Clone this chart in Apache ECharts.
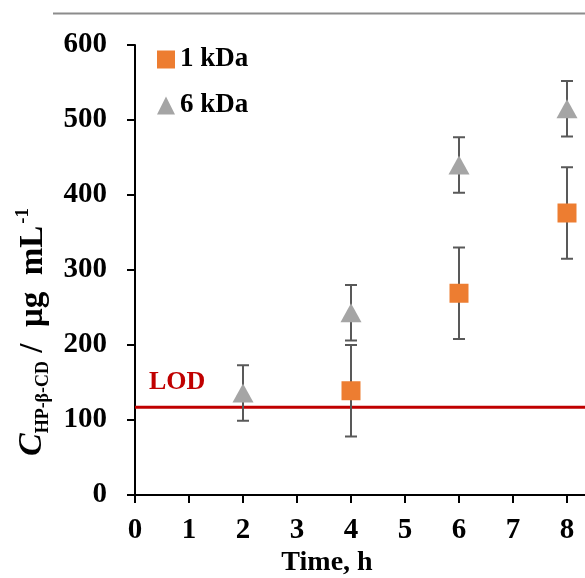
<!DOCTYPE html>
<html><head><meta charset="utf-8">
<script src="https://cdn.jsdelivr.net/npm/echarts@6/dist/echarts.min.js"></script>
<style>html,body{margin:0;padding:0;background:#fff}#c{width:585px;height:578px}</style>
</head><body><div id="c"></div>
<script>
// Data
const xTicks = [0,1,2,3,4,5,6,7,8];
const yTicks = [0,100,200,300,400,500,600];
const time1kDa = [4,6,8];
const mean1kDa = [139,269,376];
const sd1kDa = [61,61,61];
const time6kDa = [2,4,6,8];
const mean6kDa = [136,243,440,515];
const sd6kDa = [37,37,37,37];
const lod = 117;

const serif = '"Liberation Serif","Times New Roman",serif';
const pts1 = time1kDa.map((t,i)=>[t,mean1kDa[i]]);
const pts6 = time6kDa.map((t,i)=>[t,mean6kDa[i]]);
const err1 = time1kDa.map((t,i)=>[t,mean1kDa[i]-sd1kDa[i],mean1kDa[i]+sd1kDa[i]]);
const err6 = time6kDa.map((t,i)=>[t,mean6kDa[i]-sd6kDa[i],mean6kDa[i]+sd6kDa[i]]);

function errItem(params, api){
  const x = api.value(0);
  const lo = api.coord([x, api.value(1)]);
  const hi = api.coord([x, api.value(2)]);
  const w = 6;
  const st = {stroke:'#595959', lineWidth:2};
  return {type:'group', children:[
    {type:'line', shape:{x1:lo[0],y1:lo[1],x2:hi[0],y2:hi[1]}, style:st},
    {type:'line', shape:{x1:lo[0]-w,y1:lo[1],x2:lo[0]+w,y2:lo[1]}, style:st},
    {type:'line', shape:{x1:hi[0]-w,y1:hi[1],x2:hi[0]+w,y2:hi[1]}, style:st}
  ]};
}

const chart = echarts.init(document.getElementById('c'));
chart.setOption({
  animation:false,
  backgroundColor:'#fff',
  grid:{left:135, top:45, right:0, height:450, containLabel:false},
  legend:{
    orient:'vertical', left:157, top:46, itemGap:19, itemWidth:18, itemHeight:18, padding:0,
    data:[{name:'1 kDa', icon:'rect'},{name:'6 kDa', icon:'triangle'}],
    textStyle:{fontFamily:serif, fontWeight:'bold', fontSize:27, color:'#000'}
  },
  xAxis:{
    type:'value', min:0, max:450/54, interval:1,
    axisLine:{lineStyle:{color:'#000', width:2}},
    axisTick:{show:true, length:8, lineStyle:{color:'#000', width:2}},
    splitLine:{show:false},
    axisLabel:{margin:21, fontFamily:serif, fontWeight:'bold', fontSize:29, color:'#000',
      showMaxLabel:false,
      formatter:v=> xTicks.indexOf(v)>=0 ? String(v) : ''}
  },
  yAxis:{
    type:'value', min:0, max:600, interval:100,
    axisLine:{show:true, lineStyle:{color:'#000', width:2}},
    axisTick:{show:true, length:8, lineStyle:{color:'#000', width:2}},
    splitLine:{show:false},
    axisLabel:{margin:28, fontFamily:serif, fontWeight:'bold', fontSize:29, color:'#000',
      formatter:v=> yTicks.indexOf(v)>=0 ? String(v) : ''},
    name:'{c|C}{sub|HP-β-CD}{m| /  μg  mL}{sup|-1}',
    nameLocation:'middle', nameRotate:90, nameGap:84,
    nameTextStyle:{
      padding:[0,124,0,0],
      rich:{
        c:{fontFamily:serif, fontWeight:'bold', fontStyle:'italic', fontSize:34, color:'#000', lineHeight:36, verticalAlign:'bottom'},
        sub:{fontFamily:serif, fontWeight:'bold', fontSize:18, color:'#000', lineHeight:36, verticalAlign:'bottom', padding:[0,0,-3,0]},
        m:{fontFamily:serif, fontWeight:'bold', fontSize:33, color:'#000', lineHeight:36, verticalAlign:'bottom'},
        sup:{fontFamily:serif, fontWeight:'bold', fontSize:19, color:'#000', lineHeight:36, verticalAlign:'top', padding:[0,0,0,2]}
      }
    }
  },
  graphic:[
    {type:'line', shape:{x1:53,y1:13.5,x2:585,y2:13.5}, style:{stroke:'#8c8c8c', lineWidth:2}},
    {type:'text', style:{text:'Time, h', fontFamily:serif, fontWeight:'bold', fontSize:28, fill:'#000', textAlign:'center'}, x:327, y:549},
    {type:'text', style:{text:'LOD', fontFamily:serif, fontWeight:'bold', fontSize:26, fill:'#C00000'}, x:149, y:369}
  ],
  series:[
    {name:'LOD', type:'line', data:[[0,lod],[450/54,lod]], symbol:'none', silent:true,
      lineStyle:{color:'#C00000', width:3}, z:1},
    {name:'err1', type:'custom', data:err1, renderItem:errItem, z:2, silent:true},
    {name:'err6', type:'custom', data:err6, renderItem:errItem, z:2, silent:true},
    {name:'1 kDa', type:'scatter', data:pts1, symbol:'rect', symbolSize:19,
      itemStyle:{color:'#ED7D31', opacity:1}, z:5},
    {name:'6 kDa', type:'scatter', data:pts6, symbol:'triangle', symbolSize:[21,19],
      itemStyle:{color:'#A5A5A5', opacity:1}, z:5}
  ]
});
</script></body></html>
